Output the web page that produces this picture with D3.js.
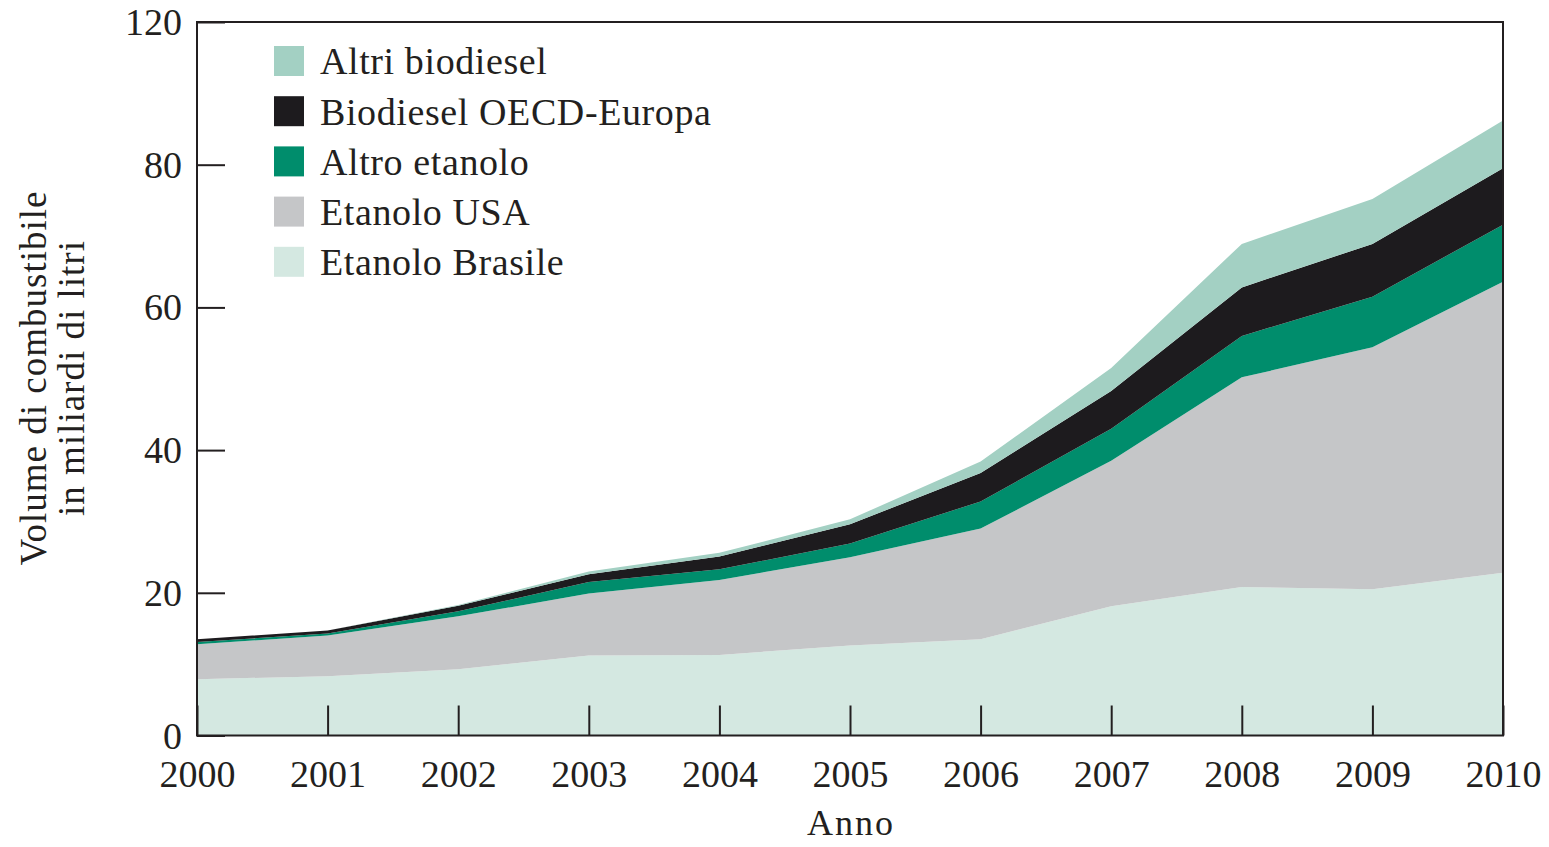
<!DOCTYPE html>
<html><head><meta charset="utf-8">
<script src="https://cdn.jsdelivr.net/npm/d3@7/dist/d3.min.js"></script>
<style>
html,body{margin:0;padding:0;background:#fff;}
svg{display:block;}
text{font-family:"Liberation Serif","DejaVu Serif",serif;fill:#231f20;}
</style></head>
<body>
<svg id="chart" width="1549" height="847"></svg>
<script>
const years = [2000,2001,2002,2003,2004,2005,2006,2007,2008,2009,2010];
const etanoloBrasile = [7.9,8.3,9.3,11.2,11.3,12.6,13.5,18.1,20.8,20.5,22.8];
const etanoloUSA     = [4.9,5.7,7.4,8.7,10.5,12.4,15.5,20.4,29.4,33.9,40.8];
const altroEtanolo   = [0.3,0.3,0.7,1.6,1.5,1.9,3.8,4.5,5.8,7.1,8.0];
const biodieselOECD  = [0.4,0.4,0.8,1.1,1.8,2.7,4.0,5.3,6.8,7.4,7.9];
const altriBiodiesel = [0.0,0.0,0.1,0.4,0.5,0.7,1.6,3.2,6.1,6.3,6.7];
const yTickValues = [0,20,40,60,80,100];
const yTickLabels = ["0","20","40","60","80","120"];
const seriesNames = ["Etanolo Brasile","Etanolo USA","Altro etanolo","Biodiesel OECD-Europa","Altri biodiesel"];
const seriesColors = ["#d4e8e1","#c5c6c8","#008d6c","#1d1b1e","#a3d0c3"];

const seriesValues = [etanoloBrasile, etanoloUSA, altroEtanolo, biodieselOECD, altriBiodiesel];
const table = years.map((y,i)=>{
  const row = {year:y};
  seriesNames.forEach((n,k)=>row[n]=seriesValues[k][i]);
  return row;
});

const svg = d3.select("#chart");
const L=197, R=1503, T=22, B=735.5;
const x = d3.scaleLinear().domain([2000,2010]).range([L,R]);
const y = d3.scaleLinear().domain([0,100]).range([B,T]);

const stacked = d3.stack().keys(seriesNames)(table);
const area = d3.area().x(d=>x(d.data.year)).y0(d=>y(d[0])).y1(d=>y(d[1]));

svg.append("g").selectAll("path").data(stacked).join("path")
  .attr("d",area).attr("fill",(d,i)=>seriesColors[i]);

// axes
const yAxis = d3.axisLeft(y).tickValues(yTickValues).tickSize(-28)
  .tickFormat((d,i)=>yTickLabels[i]).tickPadding(15);
const gy = svg.append("g").attr("transform",`translate(${L},0)`).call(yAxis);
gy.select(".domain").remove();
gy.selectAll(".tick line").attr("stroke","#231f20").attr("stroke-width",2);
gy.selectAll(".tick text").style("font-size","38px")
  .style("font-family","'Liberation Serif',serif").attr("fill","#231f20").attr("dy","0.33em");

const xAxis = d3.axisBottom(x).tickValues(years).tickSize(-30)
  .tickFormat(d3.format("d")).tickPadding(51);
const gx = svg.append("g").attr("transform",`translate(0,${B})`).call(xAxis);
gx.select(".domain").remove();
gx.selectAll(".tick line").attr("stroke","#231f20").attr("stroke-width",2);
gx.selectAll(".tick text").style("font-size","38px")
  .style("font-family","'Liberation Serif',serif").attr("fill","#231f20").attr("dy","0");

// frame
svg.append("rect").attr("x",L).attr("y",T).attr("width",R-L).attr("height",B-T)
  .attr("fill","none").attr("stroke","#231f20").attr("stroke-width",2);

// axis titles
svg.append("text").attr("x",(L+R)/2+1).attr("y",835).attr("text-anchor","middle")
  .style("font-size","36px").style("letter-spacing","2px").text("Anno");
const yl = svg.append("text").attr("transform","translate(0,378) rotate(-90)")
  .attr("text-anchor","middle").style("font-size","37px").style("letter-spacing","1px");
yl.append("tspan").attr("x",0).attr("y",46).text("Volume di combustibile");
yl.append("tspan").attr("x",0).attr("y",84).text("in miliardi di litri");

// legend
const legendOrder = [4,3,2,1,0];
const lg = svg.append("g");
legendOrder.forEach((k,i)=>{
  const cy = 61 + i*50.2;
  lg.append("rect").attr("x",274).attr("y",cy-15).attr("width",30).attr("height",30)
    .attr("fill",seriesColors[k]);
  lg.append("text").attr("x",320).attr("y",cy).attr("dy","0.35em")
    .style("font-size","38px").style("letter-spacing","0.6px").text(seriesNames[k]);
});
</script>
</body></html>
